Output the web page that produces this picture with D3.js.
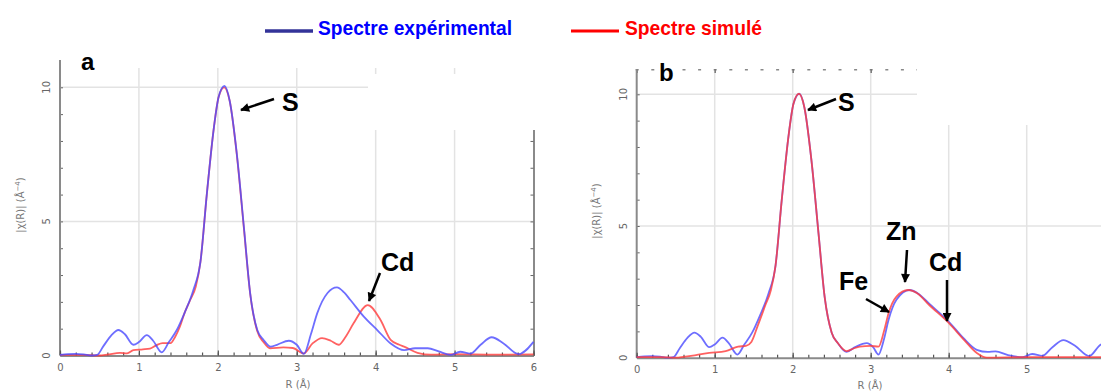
<!DOCTYPE html>
<html>
<head>
<meta charset="utf-8">
<script src="https://cdn.jsdelivr.net/npm/d3@7"></script>
<style>
  body { margin: 0; background: #fff; }
  svg { display: block; }
</style>
</head>
<body>
<svg id="chart" width="1101" height="392"></svg>
<script>
// values: [R (Å), |chi(R)|]
const xTicks = [0, 1, 2, 3, 4, 5, 6];
const yTicks = [0, 5, 10];
const legendLabels = ["Spectre expérimental", "Spectre simulé"];

const expDataA = [
  [0, 0.02], [0.1, 0.05], [0.2, 0.06], [0.3, 0.04], [0.4, 0.0], [0.47, 0.02],
  [0.55, 0.35], [0.65, 0.75], [0.74, 0.95], [0.82, 0.8], [0.93, 0.4], [1.0, 0.5],
  [1.1, 0.76], [1.18, 0.55], [1.29, 0.12], [1.38, 0.5], [1.48, 0.95], [1.58, 1.6],
  [1.69, 2.44], [1.78, 3.5], [1.86, 6.0], [1.95, 8.5], [2.01, 9.64], [2.085, 10.05],
  [2.15, 9.5], [2.24, 7.54], [2.33, 4.8], [2.41, 2.32], [2.5, 0.95], [2.58, 0.58],
  [2.67, 0.33], [2.75, 0.4], [2.9, 0.55], [3.0, 0.4], [3.09, 0.06], [3.18, 0.8],
  [3.26, 1.58], [3.39, 2.33], [3.51, 2.54], [3.6, 2.35], [3.68, 2.07], [3.85, 1.45],
  [4.02, 0.95], [4.19, 0.45], [4.36, 0.2], [4.5, 0.27], [4.66, 0.27], [4.8, 0.15],
  [4.95, 0.02], [5.07, 0.14], [5.2, 0.07], [5.33, 0.4], [5.47, 0.68], [5.62, 0.45],
  [5.81, 0.05], [6.0, 0.51]
];

const expDataB = [
  [0, 0.02], [0.1, 0.05], [0.2, 0.06], [0.3, 0.04], [0.4, 0.0], [0.47, 0.02],
  [0.55, 0.35], [0.65, 0.75], [0.74, 0.95], [0.82, 0.8], [0.93, 0.4], [1.0, 0.5],
  [1.1, 0.76], [1.18, 0.55], [1.29, 0.12], [1.38, 0.5], [1.48, 0.95], [1.58, 1.6],
  [1.69, 2.44], [1.78, 3.5], [1.86, 6.0], [1.95, 8.5], [2.01, 9.64], [2.085, 10.02],
  [2.15, 9.5], [2.24, 7.5], [2.33, 4.75], [2.41, 2.3], [2.5, 0.95], [2.58, 0.55],
  [2.69, 0.22], [2.8, 0.4], [2.95, 0.55], [3.03, 0.4], [3.1, 0.12], [3.17, 0.7],
  [3.23, 1.45], [3.33, 2.2], [3.5, 2.57], [3.6, 2.45], [3.75, 2.05], [4.0, 1.37],
  [4.19, 0.74], [4.36, 0.3], [4.5, 0.22], [4.6, 0.24], [4.76, 0.1], [4.95, 0.02],
  [5.07, 0.14], [5.2, 0.07], [5.33, 0.4], [5.47, 0.67], [5.62, 0.45], [5.8, 0.06],
  [5.95, 0.5], [6.0, 0.55]
];

const simDataA = [
  [0, 0.02], [0.3, 0.02], [0.5, 0.0], [0.6, 0.03], [0.76, 0.1], [0.85, 0.08],
  [0.93, 0.2], [1.05, 0.23], [1.14, 0.26], [1.22, 0.38], [1.3, 0.46], [1.4, 0.46],
  [1.46, 0.7], [1.52, 1.08], [1.58, 1.6], [1.65, 2.07], [1.72, 2.56], [1.78, 3.5],
  [1.86, 6.0], [1.95, 8.5], [2.01, 9.64], [2.08, 10.0], [2.15, 9.5], [2.24, 7.5],
  [2.33, 4.75], [2.41, 2.3], [2.5, 0.9], [2.58, 0.5], [2.66, 0.27], [2.83, 0.3],
  [2.95, 0.28], [3.09, 0.08], [3.2, 0.45], [3.32, 0.65], [3.43, 0.55], [3.53, 0.4],
  [3.62, 0.7], [3.72, 1.2], [3.9, 1.88], [4.06, 1.33], [4.19, 0.58], [4.3, 0.4],
  [4.36, 0.33], [4.53, 0.1], [4.7, 0.03], [5.0, 0.05], [5.5, 0.03], [6.0, 0.04]
];

const simDataB = [
  [0, 0.02], [0.3, 0.02], [0.5, 0.0], [0.6, 0.03], [0.76, 0.1], [0.93, 0.18],
  [1.14, 0.25], [1.3, 0.42], [1.4, 0.45], [1.47, 0.6], [1.55, 1.2], [1.65, 2.0],
  [1.72, 2.56], [1.78, 3.5], [1.86, 6.0], [1.95, 8.5], [2.01, 9.64], [2.08, 10.02],
  [2.15, 9.5], [2.24, 7.5], [2.33, 4.75], [2.41, 2.3], [2.5, 0.95], [2.58, 0.55],
  [2.69, 0.25], [2.78, 0.35], [2.86, 0.42], [3.0, 0.45], [3.1, 0.42], [3.17, 1.0],
  [3.23, 1.7], [3.33, 2.32], [3.48, 2.57], [3.6, 2.44], [3.75, 2.0], [4.0, 1.32],
  [4.19, 0.7], [4.36, 0.18], [4.49, 0.0], [5.0, 0.02], [6.0, 0.02]
];

const svg = d3.select("#chart");
const tickFont = "'DejaVu Sans', sans-serif";
const boldFont = "'Liberation Sans', Arial, sans-serif";

svg.append("defs").append("marker")
  .attr("id", "arrow")
  .attr("viewBox", "0 0 10 10")
  .attr("refX", 9).attr("refY", 5)
  .attr("markerWidth", 10).attr("markerHeight", 9)
  .attr("markerUnits", "userSpaceOnUse")
  .attr("orient", "auto")
  .append("path").attr("d", "M0,0 L10,5 L0,10 z").attr("fill", "#000");

const panels = [
  {
    name: "a", xRange: [60, 533.5], yRange: [355.5, 87.3], top: 68, axisTop: 60,
    exp: expDataA, sim: simDataA, simOnTop: false, topTicks: false,
    mask: { x: 368, y: 74, w: 185, h: 56 },
    letter: { x: 81, y: 70 },
    ytitle: { x: 24, y: 205 }, xtitle: { x: 298, y: 388 },
    notes: [
      { text: "S", x: 282, y: 111, from: [274, 99], to: [241, 110] },
      { text: "Cd", x: 381, y: 271, from: [380, 273], to: [369, 301] }
    ]
  },
  {
    name: "b", xRange: [636.7, 1104.7], yRange: [357.7, 94.3], top: 69, axisTop: 69,
    exp: expDataB, sim: simDataB, simOnTop: true, topTicks: true,
    mask: { x: 917, y: 60, w: 190, h: 65 },
    letter: { x: 659, y: 81 },
    ytitle: { x: 600, y: 211 }, xtitle: { x: 870, y: 389 },
    notes: [
      { text: "S", x: 838, y: 111, from: [836, 99], to: [808, 110] },
      { text: "Zn", x: 886, y: 240, from: [907, 250], to: [905, 282] },
      { text: "Cd", x: 929, y: 271, from: [947, 280], to: [947, 321] },
      { text: "Fe", x: 839, y: 290, from: [866, 299], to: [889, 312] }
    ]
  }
];

function drawPanel(p) {
  const x = d3.scaleLinear().domain([0, 6]).range(p.xRange);
  const y = d3.scaleLinear().domain([0, 10]).range(p.yRange);
  const g = svg.append("g");

  // grid
  g.selectAll(".vgrid").data(xTicks.slice(1, -1)).join("line")
    .attr("class", "vgrid")
    .attr("x1", d => x(d)).attr("x2", d => x(d))
    .attr("y1", y(0)).attr("y2", p.top)
    .attr("stroke", "#e3e3e3").attr("stroke-width", 1.5);
  g.selectAll(".hgrid").data(yTicks.slice(1)).join("line")
    .attr("class", "hgrid")
    .attr("x1", x(0)).attr("x2", x(6))
    .attr("y1", d => y(d)).attr("y2", d => y(d))
    .attr("stroke", "#e3e3e3").attr("stroke-width", 1.5);

  // right axis, ticks inward
  const right = g.append("g").attr("transform", `translate(${x(6)},0)`)
    .call(d3.axisRight(y).tickValues(d3.range(0, 11)).tickSize(-3).tickSizeOuter(0).tickFormat(""));
  right.select(".domain").attr("stroke", "#8a8a8a").attr("stroke-width", 2);
  right.selectAll(".tick line").attr("stroke", "#666");

  if (p.topTicks) {
    const top = g.append("g").attr("transform", `translate(0,${p.top})`)
      .call(d3.axisTop(x).tickValues(d3.range(0, 6.01, 0.2)).tickSize(-1.5).tickSizeOuter(0).tickFormat(""));
    top.select(".domain").attr("stroke", "none");
    top.selectAll(".tick line").attr("stroke", "#888").attr("stroke-width", 3);
    const topMajor = g.append("g").attr("transform", `translate(0,${p.top})`)
      .call(d3.axisTop(x).tickValues(xTicks).tickSize(-4).tickSizeOuter(0).tickFormat(""));
    topMajor.select(".domain").remove();
    topMajor.selectAll(".tick line").attr("stroke", "#777").attr("stroke-width", 1.5);
  }

  // cut-out (white block in the original figure)
  g.append("rect").attr("x", p.mask.x).attr("y", p.mask.y)
    .attr("width", p.mask.w).attr("height", p.mask.h).attr("fill", "#fff");

  // left axis
  const left = g.append("g").attr("transform", `translate(${x(0)},0)`)
    .call(d3.axisLeft(y).tickValues(d3.range(0, 11)).tickSize(-3).tickSizeOuter(0).tickFormat(""));
  left.select(".domain").remove();
  left.selectAll(".tick line").attr("stroke", "#666");
  g.append("line").attr("x1", x(0)).attr("x2", x(0)).attr("y1", y(0)).attr("y2", p.axisTop)
    .attr("stroke", "#8a8a8a").attr("stroke-width", 2);

  g.selectAll(".ylab").data(yTicks).join("text")
    .attr("class", "ylab")
    .attr("transform", d => `translate(${x(0) - 10},${y(d)}) rotate(-90)`)
    .attr("text-anchor", "middle")
    .attr("font-family", tickFont).attr("font-size", 10).attr("fill", "#666")
    .text(d => d);

  // bottom axis
  const minor = g.append("g").attr("transform", `translate(0,${y(0)})`)
    .call(d3.axisBottom(x).tickValues(d3.range(0, 6.01, 0.2)).tickSize(-3).tickSizeOuter(0).tickFormat(""));
  minor.select(".domain").attr("stroke", "#8a8a8a").attr("stroke-width", 2);
  minor.selectAll(".tick line").attr("stroke", "#555").attr("stroke-width", 1.2);
  const shown = xTicks.filter(d => x(d) < 1095);
  const major = g.append("g").attr("transform", `translate(0,${y(0)})`)
    .call(d3.axisBottom(x).tickValues(shown).tickSize(-5).tickSizeOuter(0).tickPadding(8).tickFormat(d3.format("d")));
  major.select(".domain").remove();
  major.selectAll(".tick line").attr("stroke", "#555").attr("stroke-width", 1.2);
  major.selectAll(".tick text").attr("font-family", tickFont).attr("font-size", 10).attr("fill", "#666");

  // axis titles
  const yt = g.append("text")
    .attr("transform", `translate(${p.ytitle.x},${p.ytitle.y}) rotate(-90)`)
    .attr("text-anchor", "middle")
    .attr("font-family", tickFont).attr("font-size", 10).attr("fill", "#777");
  yt.append("tspan").text("|χ(R)| (Å");
  yt.append("tspan").attr("font-size", 7).attr("dy", -4).text("−4");
  yt.append("tspan").attr("dy", 4).text(")");

  g.append("text").attr("x", p.xtitle.x).attr("y", p.xtitle.y)
    .attr("text-anchor", "middle")
    .attr("font-family", tickFont).attr("font-size", 10).attr("fill", "#777")
    .text("R (Å)");

  // curves
  const line = d3.line().x(d => x(d[0])).y(d => y(d[1])).curve(d3.curveMonotoneX);
  const drawExp = () => g.append("path").datum(p.exp).attr("d", line)
    .attr("fill", "none").attr("stroke", "#4a4aff").attr("stroke-opacity", 0.8).attr("stroke-width", 1.8);
  const drawSim = () => g.append("path").datum(p.sim).attr("d", line)
    .attr("fill", "none").attr("stroke", "#ff3a3a").attr("stroke-opacity", 0.8).attr("stroke-width", 1.8);
  if (p.simOnTop) { drawExp(); drawSim(); } else { drawSim(); drawExp(); }

  // panel letter
  g.append("text").attr("x", p.letter.x).attr("y", p.letter.y)
    .attr("font-family", boldFont).attr("font-weight", "bold").attr("font-size", 24)
    .attr("fill", "#000").text(p.name);

  // element annotations
  p.notes.forEach(n => {
    g.append("line")
      .attr("x1", n.from[0]).attr("y1", n.from[1]).attr("x2", n.to[0]).attr("y2", n.to[1])
      .attr("stroke", "#000").attr("stroke-width", 2.5).attr("marker-end", "url(#arrow)");
    g.append("text").attr("x", n.x).attr("y", n.y)
      .attr("font-family", boldFont).attr("font-weight", "bold").attr("font-size", 25)
      .attr("fill", "#000").text(n.text);
  });
}

panels.forEach(drawPanel);

// legend
const legend = [
  { label: legendLabels[0], line: [265, 313], color: "#333399", width: 3.5, text: "#0000ff", tx: 318, tl: 194 },
  { label: legendLabels[1], line: [571, 619], color: "#ff0000", width: 3, text: "#ff0000", tx: 625, tl: 137 }
];
const lg = svg.append("g");
lg.selectAll("line").data(legend).join("line")
  .attr("x1", d => d.line[0]).attr("x2", d => d.line[1])
  .attr("y1", 31).attr("y2", 31)
  .attr("stroke", d => d.color).attr("stroke-width", d => d.width);
lg.selectAll("text").data(legend).join("text")
  .attr("x", d => d.tx).attr("y", 35)
  .attr("textLength", d => d.tl).attr("lengthAdjust", "spacingAndGlyphs")
  .attr("font-family", boldFont).attr("font-weight", "bold").attr("font-size", 21)
  .attr("fill", d => d.text)
  .text(d => d.label);
</script>
</body>
</html>
